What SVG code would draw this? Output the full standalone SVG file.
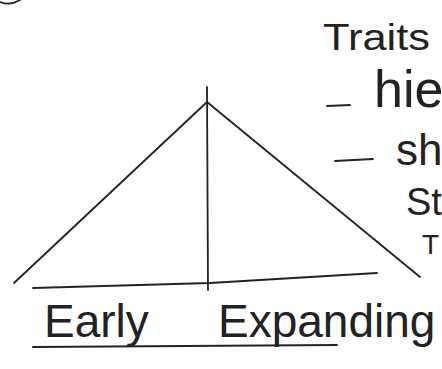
<svg xmlns="http://www.w3.org/2000/svg" width="442" height="369" viewBox="0 0 442 369">
  <style>
    .ln { fill: none; stroke: #222; stroke-width: 1.8; stroke-linecap: round; stroke-linejoin: round; }
    .tx { font-family: "Liberation Sans", "DejaVu Sans", sans-serif; fill: #222; }
  </style>
  <rect width="442" height="369" fill="#ffffff"/>
  <path class="ln" d="M0,2 Q10,6 20,0" stroke-width="2.5"/>
  <g id="connectors">
    <path class="ln" d="M14,283 L207,102 L420,277"/>
    <path class="ln" d="M207,87 L208,290"/>
    <polyline class="ln" points="33,288 210,283 377,273"/>
    <path class="ln" d="M33,347 L337,345"/>
    <path class="ln" d="M327,106 L350,105"/>
    <path class="ln" d="M335,161 L373,159"/>
  </g>
  <g id="traits">
    <text class="tx" x="323" y="50" font-size="36" textLength="107" lengthAdjust="spacingAndGlyphs">Traits</text>
  </g>
  <g id="hie">
    <text class="tx" x="374" y="107" font-size="52">hie</text>
  </g>
  <g id="sh">
    <text class="tx" x="396" y="165" font-size="44">sh</text>
  </g>
  <g id="st">
    <text class="tx" x="406" y="215" font-size="38">St</text>
  </g>
  <g id="t">
    <text class="tx" x="422" y="254" font-size="28">T</text>
  </g>
  <g id="title">
    <text class="tx" font-size="46"><tspan x="44" y="337">Early</tspan><tspan x="218" y="337">Expanding</tspan></text>
  </g>
</svg>
